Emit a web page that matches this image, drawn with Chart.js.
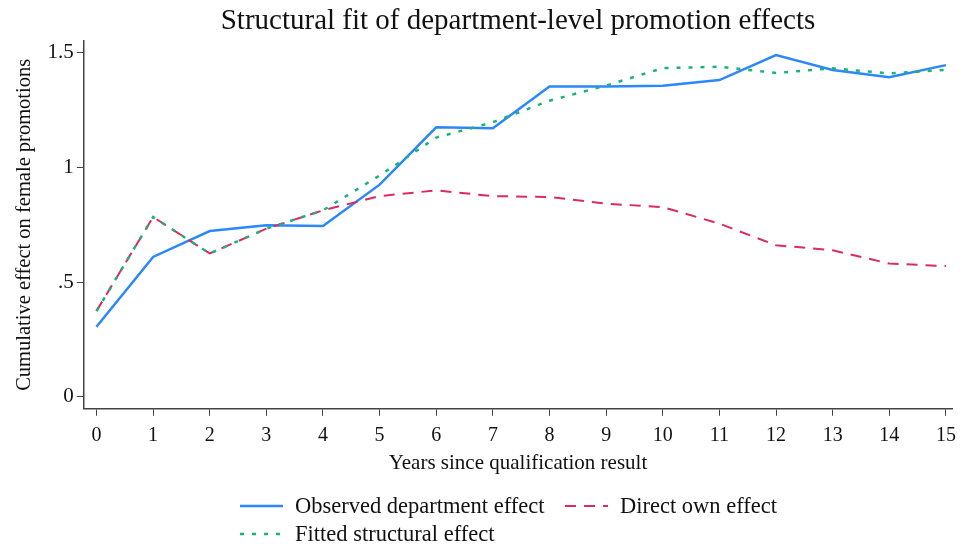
<!DOCTYPE html>
<html>
<head>
<meta charset="utf-8">
<title>Structural fit of department-level promotion effects</title>
<script src="https://cdn.jsdelivr.net/npm/chart.js@4/dist/chart.umd.min.js"></script>
<style>
  html, body { margin: 0; padding: 0; background: #fff; }
  #wrap { width: 964px; height: 548px; }
</style>
</head>
<body>
<div id="wrap"><canvas id="fitChart" width="964" height="548"></canvas></div>
<script>
// years since qualification result
var years = [0, 1, 2, 3, 4, 5, 6, 7, 8, 9, 10, 11, 12, 13, 14, 15];
// cumulative effect on female promotions
var observed = [0.306, 0.61, 0.723, 0.748, 0.745, 0.925, 1.175, 1.171, 1.353, 1.353, 1.356, 1.381, 1.49, 1.425, 1.393, 1.446];
var direct = [0.374, 0.784, 0.625, 0.733, 0.813, 0.875, 0.9, 0.875, 0.871, 0.842, 0.827, 0.755, 0.661, 0.639, 0.581, 0.57];
var fitted = [0.374, 0.784, 0.625, 0.733, 0.813, 0.965, 1.13, 1.197, 1.291, 1.357, 1.433, 1.439, 1.412, 1.432, 1.41, 1.425];
var yTicks = [0, 0.5, 1, 1.5];
var yTickLabels = ['0', '.5', '1', '1.5'];

var serif = '"Liberation Serif", "Times New Roman", serif';
var axisColor = '#444';

function pts(vals) {
  return years.map(function (yr, i) { return { x: yr, y: vals[i] }; });
}

// legend drawn under the axis title, two columns
var bottomLegend = {
  id: 'bottomLegend',
  afterDraw: function (chart) {
    var ctx = chart.ctx;
    var ds = chart.data.datasets;
    var slots = [
      { i: 0, x: 240, y: 506 },
      { i: 1, x: 565, y: 506 },
      { i: 2, x: 240, y: 534 }
    ];
    ctx.save();
    ctx.font = '22.5px ' + serif;
    ctx.textBaseline = 'middle';
    slots.forEach(function (s) {
      var d = ds[s.i];
      ctx.strokeStyle = d.borderColor;
      ctx.lineWidth = d.borderWidth;
      ctx.setLineDash(d.borderDash || []);
      ctx.beginPath();
      ctx.moveTo(s.x, s.y);
      ctx.lineTo(s.x + 43, s.y);
      ctx.stroke();
      ctx.setLineDash([]);
      ctx.fillStyle = '#111';
      ctx.fillText(d.label, s.x + 55, s.y + 1);
    });
    ctx.restore();
  }
};

var ctx = document.getElementById('fitChart').getContext('2d');
var fitChart = new Chart(ctx, {
  type: 'line',
  data: {
    datasets: [
      {
        label: 'Observed department effect',
        data: pts(observed),
        borderColor: '#2b88fa',
        borderWidth: 2.5,
        order: 3
      },
      {
        label: 'Direct own effect',
        data: pts(direct),
        borderColor: '#dc2a5f',
        borderWidth: 2,
        borderDash: [11, 8],
        order: 2
      },
      {
        label: 'Fitted structural effect',
        data: pts(fitted),
        borderColor: '#1cb27a',
        borderWidth: 2.5,
        borderDash: [4, 8],
        order: 1
      }
    ]
  },
  options: {
    responsive: false,
    animation: false,
    layout: { padding: { left: 12, right: 0, top: 4, bottom: 72 } },
    elements: {
      point: { radius: 0 },
      line: { tension: 0, fill: false }
    },
    scales: {
      x: {
        type: 'linear',
        min: -0.223,
        max: 15.11,
        afterBuildTicks: function (axis) {
          axis.ticks = years.map(function (v) { return { value: v }; });
        },
        grid: { drawOnChartArea: false, drawTicks: true, tickLength: 7, color: axisColor },
        border: { display: true, color: axisColor, width: 1.5 },
        ticks: {
          color: '#111',
          font: { family: serif, size: 20 },
          padding: 8,
          maxRotation: 0
        },
        title: {
          display: true,
          text: 'Years since qualification result',
          color: '#111',
          font: { family: serif, size: 21 },
          padding: { top: -5, bottom: 0 }
        }
      },
      y: {
        min: -0.052,
        max: 1.552,
        afterBuildTicks: function (axis) {
          axis.ticks = yTicks.map(function (v) { return { value: v }; });
        },
        grid: { drawOnChartArea: false, drawTicks: true, tickLength: 7, color: axisColor },
        border: { display: true, color: axisColor, width: 1.5 },
        ticks: {
          color: '#111',
          font: { family: serif, size: 21 },
          padding: 3,
          callback: function (value) {
            var k = yTicks.indexOf(value);
            return k >= 0 ? yTickLabels[k] : '';
          }
        },
        title: {
          display: true,
          text: 'Cumulative effect on female promotions',
          color: '#111',
          font: { family: serif, size: 20.5 },
          padding: { top: 0, bottom: 8 }
        }
      }
    },
    plugins: {
      legend: { display: false },
      tooltip: { enabled: false },
      title: {
        display: true,
        fullSize: false,
        text: 'Structural fit of department-level promotion effects',
        color: '#111',
        font: { family: serif, size: 29, weight: 'normal' },
        padding: { top: 0, bottom: 2 }
      }
    }
  },
  plugins: [bottomLegend]
});
</script>
</body>
</html>
